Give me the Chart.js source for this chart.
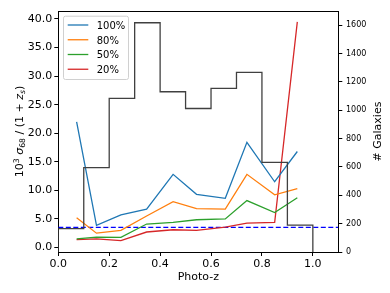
<!DOCTYPE html>
<html>
<head>
<meta charset="utf-8">
<script src="https://cdn.jsdelivr.net/npm/chart.js@4"></script>
<style>
    html, body { margin: 0; padding: 0; background: #fff; }
    canvas { display: block; }
</style>
</head>
<body>
<canvas id="chart" width="390" height="293" style="width:390px;height:293px"></canvas>
<script>
// photo-z scatter per selection fraction, plus galaxy counts per bin
const photoZ = [0.072, 0.150, 0.246, 0.347, 0.451, 0.543, 0.656, 0.741, 0.850, 0.939];
const scatter100 = [22.0, 3.85, 5.7, 6.7, 12.8, 9.3, 8.6, 18.4, 11.5, 16.8];
const scatter80 = [5.2, 2.5, 3.0, 5.5, 8.0, 6.8, 6.7, 12.8, 9.2, 10.3];
const scatter50 = [1.5, 1.8, 1.75, 4.1, 4.4, 4.85, 5.0, 8.2, 6.1, 8.7];
const scatter20 = [1.35, 1.5, 1.2, 2.7, 3.1, 3.0, 3.55, 4.25, 4.4, 39.5];
const seriesLabels = ['100%', '80%', '50%', '20%'];

const binEdges = [0.0, 0.1, 0.2, 0.3, 0.4, 0.5, 0.6, 0.7, 0.8, 0.9, 1.0];
const galaxyCounts = [165, 596, 1084, 1618, 1131, 1013, 1155, 1268, 632, 189];

const referenceLevel = 3.5;
const xTicks = [0.0, 0.2, 0.4, 0.6, 0.8, 1.0];
const yTicks = [0, 5, 10, 15, 20, 25, 30, 35, 40];
const countTicks = [0, 200, 400, 600, 800, 1000, 1200, 1400, 1600];

const FONT = "'DejaVu Sans', sans-serif";
const COLORS = ['#1f77b4', '#ff7f0e', '#2ca02c', '#d62728'];

function toPoints(values) {
    return photoZ.map((x, i) => ({ x, y: values[i] }));
}

// outline of the histogram, drawn as a stepped line
function histogramOutline() {
    const pts = [{ x: binEdges[0], y: 0 }];
    galaxyCounts.forEach((c, i) => pts.push({ x: binEdges[i], y: c }));
    pts.push({ x: binEdges[binEdges.length - 1], y: galaxyCounts[galaxyCounts.length - 1] });
    pts.push({ x: binEdges[binEdges.length - 1], y: 0 });
    return pts;
}

const lineSeries = [scatter100, scatter80, scatter50, scatter20].map((values, i) => ({
    label: seriesLabels[i],
    data: toPoints(values),
    borderColor: COLORS[i],
    borderWidth: 1.3,
    pointRadius: 0,
    yAxisID: 'y',
    order: 2,
}));

const framePlugin = {
    id: 'frame',
    afterDatasetsDraw(chart) {
        const { ctx, chartArea: a } = chart;
        ctx.save();

        // top spine
        ctx.strokeStyle = '#000';
        ctx.lineWidth = 1;
        ctx.beginPath();
        ctx.moveTo(a.left, Math.round(a.top) + 0.5);
        ctx.lineTo(a.right, Math.round(a.top) + 0.5);
        ctx.stroke();

        // legend
        const bx = 63, by = 15.7, bw = 65, bh = 63.3;
        ctx.fillStyle = 'rgba(255,255,255,0.8)';
        ctx.strokeStyle = '#d0d0d0';
        ctx.beginPath();
        ctx.roundRect(bx + 0.5, by + 0.5, bw, bh, 2);
        ctx.fill();
        ctx.stroke();
        ctx.font = `10px ${FONT}`;
        ctx.textBaseline = 'alphabetic';
        ctx.textAlign = 'left';
        seriesLabels.forEach((label, i) => {
            const ly = 25 + i * 14.75;
            ctx.strokeStyle = COLORS[i];
            ctx.lineWidth = 1.3;
            ctx.beginPath();
            ctx.moveTo(67.7, ly);
            ctx.lineTo(88.3, ly);
            ctx.stroke();
            ctx.fillStyle = '#000';
            ctx.fillText(label, 96.7, ly + 3.8);
        });

        const cy = (a.top + a.bottom) / 2;
        ctx.fillStyle = '#000';

        // left axis title with super/subscripts
        const parts = [
            { t: '10', size: 11, dy: 0 },
            { t: '3', size: 7.7, dy: -4.6 },
            { t: ' ', size: 11, dy: 0 },
            { t: 'σ', size: 11, dy: 0, italic: true },
            { t: '68', size: 7.7, dy: 1.8 },
            { t: ' / (1 + ', size: 11, dy: 0 },
            { t: 'z', size: 11, dy: 0, italic: true },
            { t: 's', size: 7.7, dy: 1.8, italic: true },
            { t: ')', size: 11, dy: 0 },
        ];
        const setFont = (p) => { ctx.font = `${p.italic ? 'italic ' : ''}${p.size}px ${FONT}`; };
        let total = 0;
        parts.forEach((p) => { setFont(p); p.w = ctx.measureText(p.t).width; total += p.w; });
        ctx.save();
        ctx.translate(23.3, cy);
        ctx.rotate(-Math.PI / 2);
        let px = -total / 2;
        parts.forEach((p) => {
            setFont(p);
            ctx.fillText(p.t, px, p.dy);
            px += p.w;
        });
        ctx.restore();

        // right axis title
        ctx.save();
        ctx.translate(380.5, cy);
        ctx.rotate(-Math.PI / 2);
        ctx.font = `11px ${FONT}`;
        ctx.textAlign = 'center';
        ctx.fillText('# Galaxies', 0, 0);
        ctx.restore();

        // x axis title
        ctx.font = `11px ${FONT}`;
        ctx.textAlign = 'center';
        ctx.fillText('Photo-z', (a.left + a.right) / 2, 280);

        ctx.restore();
    },
};

new Chart(document.getElementById('chart').getContext('2d'), {
    type: 'line',
    data: {
        datasets: [
            {
                label: 'count',
                data: histogramOutline(),
                stepped: 'before',
                borderColor: '#404040',
                borderWidth: 1.3,
                pointRadius: 0,
                yAxisID: 'y2',
                order: 1,
            },
            ...lineSeries,
            {
                label: 'level',
                data: [{ x: 0, y: referenceLevel }, { x: 1.1, y: referenceLevel }],
                borderColor: '#0000ff',
                borderWidth: 1.2,
                borderDash: [5, 2.5],
                pointRadius: 0,
                yAxisID: 'y',
                order: 3,
            },
        ],
    },
    options: {
        responsive: false,
        animation: false,
        events: [],
        layout: { padding: { top: 11, left: 0, right: 0, bottom: 0 } },
        plugins: { legend: { display: false }, tooltip: { enabled: false } },
        scales: {
            x: {
                type: 'linear',
                min: 0,
                max: 1.1,
                afterBuildTicks: (s) => { s.ticks = xTicks.map((v) => ({ value: v })); },
                afterFit: (s) => { s.height = 41; },
                ticks: {
                    autoSkip: false,
                    maxRotation: 0,
                    color: '#000',
                    font: { family: FONT, size: 11 },
                    padding: 2,
                    callback: (v) => Number(v).toFixed(1),
                },
                grid: { drawOnChartArea: false, tickLength: 4, color: '#000' },
                border: { color: '#000', width: 1 },
            },
            y: {
                position: 'left',
                min: -0.8,
                max: 41.4,
                afterBuildTicks: (s) => { s.ticks = yTicks.map((v) => ({ value: v })); },
                afterFit: (s) => { s.width = 58.3; },
                ticks: {
                    autoSkip: false,
                    color: '#000',
                    font: { family: FONT, size: 11 },
                    padding: 2,
                    callback: (v) => Number(v).toFixed(1),
                },
                grid: { drawOnChartArea: false, tickLength: 4, color: '#000' },
                border: { color: '#000', width: 1 },
            },
            y2: {
                position: 'right',
                min: 0,
                max: 1701,
                afterBuildTicks: (s) => { s.ticks = countTicks.map((v) => ({ value: v })); },
                afterFit: (s) => { s.width = 51.7; },
                ticks: {
                    autoSkip: false,
                    color: '#000',
                    font: { family: FONT, size: 8 },
                    padding: 3.7,
                    callback: (v) => String(v),
                },
                grid: { drawOnChartArea: false, tickLength: 4, color: '#000' },
                border: { color: '#000', width: 1 },
            },
        },
    },
    plugins: [framePlugin],
});
</script>
</body>
</html>
